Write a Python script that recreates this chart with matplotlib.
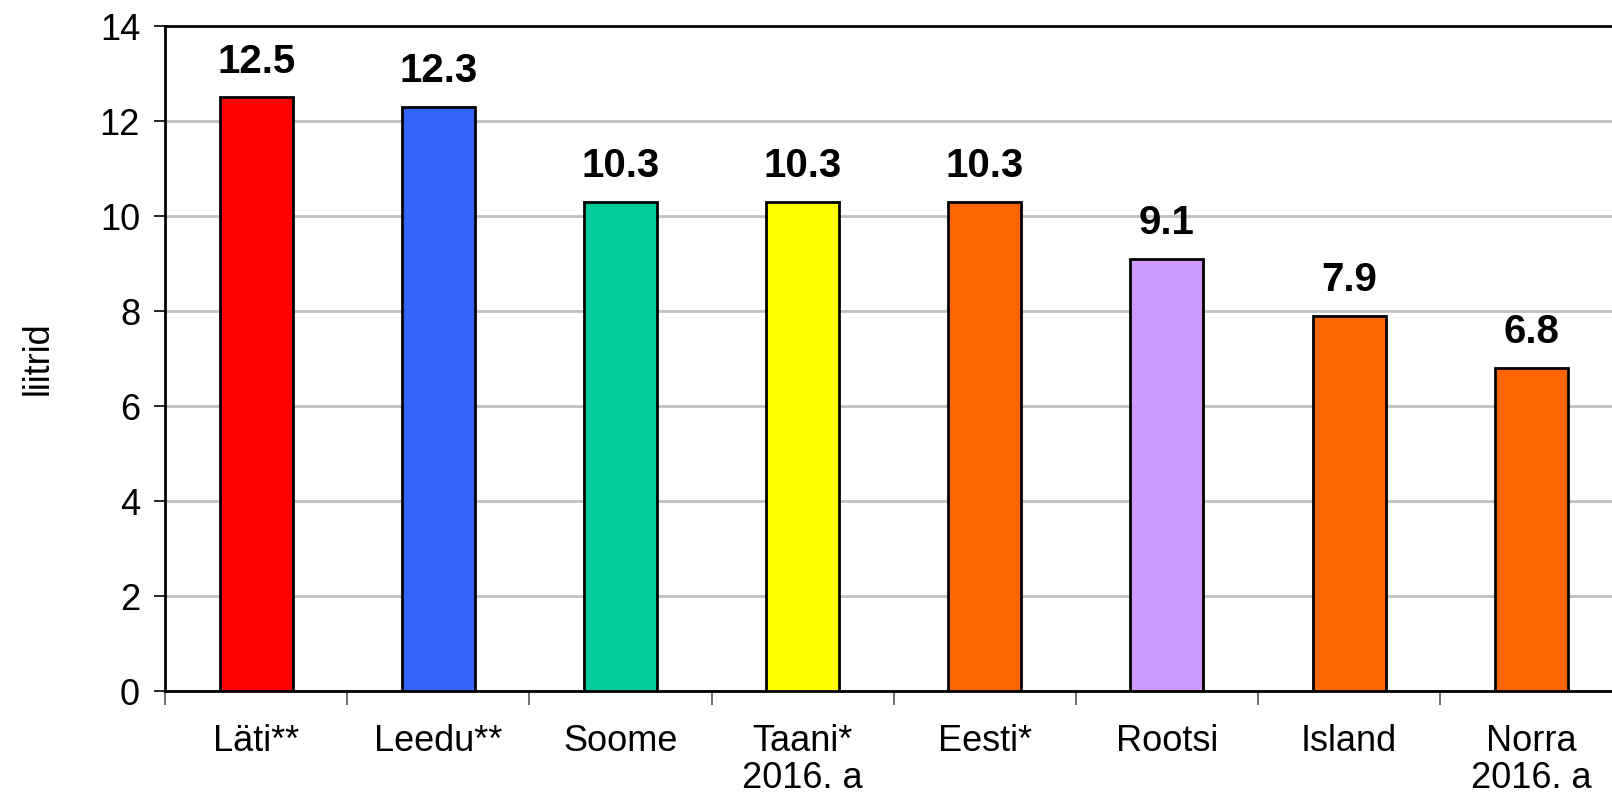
import matplotlib.pyplot as plt
import numpy as np

plt.rcParams['font.family'] = ['Liberation Sans', 'DejaVu Sans']

countries = ['Läti**', 'Leedu**', 'Soome', 'Taani*\n2016. a', 'Eesti*',
             'Rootsi', 'Island', 'Norra\n2016. a']
values = [12.5, 12.3, 10.3, 10.3, 10.3, 9.1, 7.9, 6.8]
colors = ['#ff0000', '#3366ff', '#00cc99', '#ffff00', '#ff6600',
          '#cc99ff', '#ff6600', '#ff6600']

fig = plt.figure(figsize=(16.12, 7.96), dpi=100)
ax = fig.add_axes([0.1024, 0.1319, 0.904, 0.8354])

x = np.arange(len(values)) + 0.5
bars = ax.bar(x, values, 0.4, color=colors, edgecolor='black', linewidth=2, zorder=3)

for b, v in zip(bars, values):
    ax.annotate('%.1f' % v, (b.get_x() + b.get_width() / 2, v),
                xytext=(0, 12), textcoords='offset points',
                ha='center', va='bottom', fontsize=29, fontweight='bold')

ax.set_xlim(0, len(values))
ax.set_ylim(0, 14)
ax.set_yticks(range(0, 15, 2))
ax.tick_params(axis='y', labelsize=26, length=8, width=1.2, pad=10)

ax.set_xticks(x)
ax.set_xticklabels(countries, fontsize=26)
ax.set_xticks(np.arange(len(values) + 1), minor=True)
ax.tick_params(axis='x', which='major', length=0, pad=24)
ax.tick_params(axis='x', which='minor', length=10, width=1.2, color='#555555')
for lab in ax.get_xticklabels():
    lab.set_linespacing(1.05)

ax.yaxis.grid(True, color='#c0c0c0', linewidth=2, zorder=0)
ax.set_axisbelow(True)
for s in ax.spines.values():
    s.set_linewidth(2)

ax.set_ylabel('liitrid', fontsize=26, labelpad=32)

fig.savefig('out.png', dpi=100)
